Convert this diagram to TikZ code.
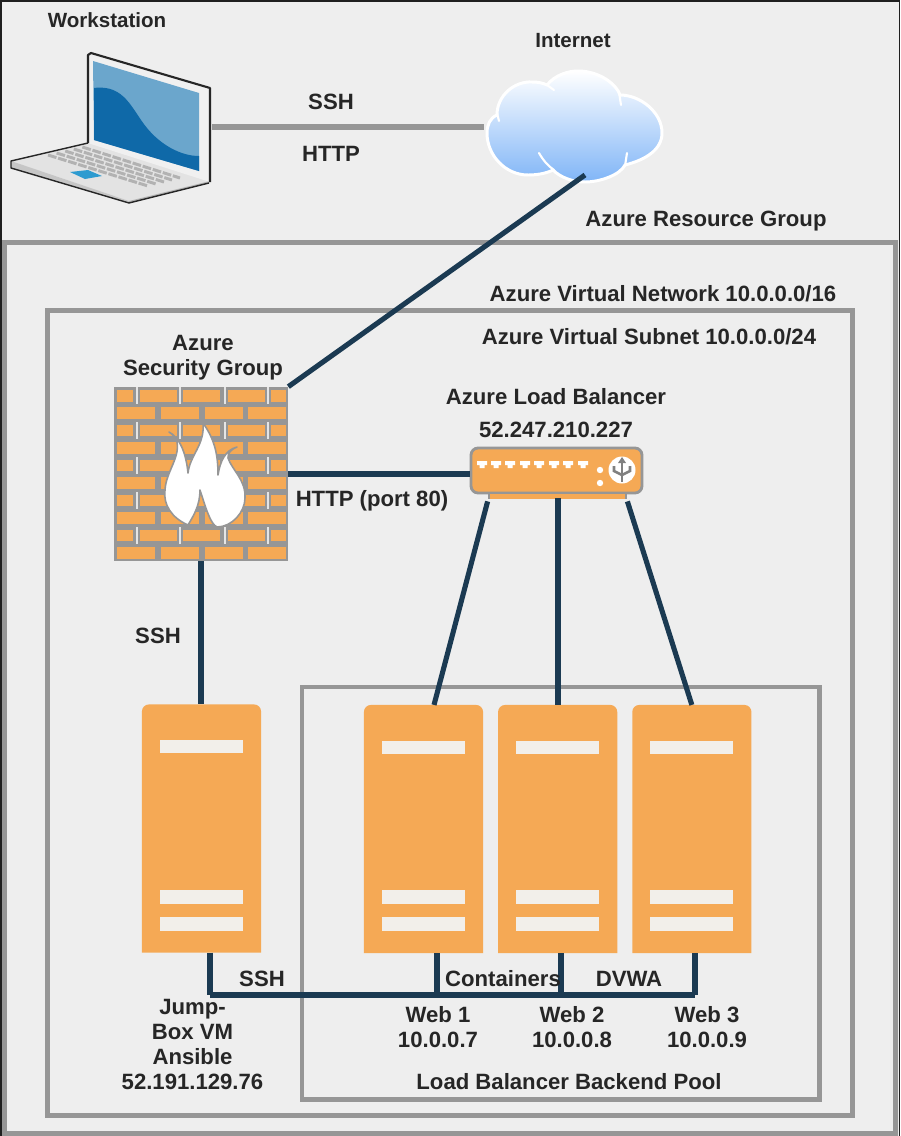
\documentclass[tikz,border=0pt]{standalone}
\usepackage{fontspec}
\setmainfont{Liberation Sans}
\usetikzlibrary{positioning,calc}
\definecolor{panelgray}{HTML}{EEEEEE}
\definecolor{framegray}{HTML}{969696}
\definecolor{navyline}{HTML}{1B3A52}
\definecolor{orangefill}{HTML}{F5A955}
\definecolor{labelink}{HTML}{262626}
\definecolor{screenlight}{HTML}{6BA6CC}
\definecolor{screendark}{HTML}{0F69A8}
\definecolor{padblue}{HTML}{2D9BD0}
\definecolor{cloudlow}{HTML}{80B5F7}
\definecolor{barwhite}{HTML}{F2EFEA}
\begin{document}
\begin{tikzpicture}[
    x=0.02cm, y=-0.02cm,
    node distance=0.3cm and 0.3cm,
    label/.style={font=\fontsize{12.6}{14.2}\selectfont\bfseries, text=labelink, align=center, inner sep=0pt},
    toplabel/.style={label, font=\fontsize{11.7}{14.2}\selectfont\bfseries},
    groupbox/.style={draw=framegray, line width=2.8pt},
    serverbox/.style={minimum width=2.37cm, minimum height=4.95cm, inner sep=0pt},
    wirelink/.style={navyline, line width=2.9pt},
    graylink/.style={framegray, line width=3.2pt},
    brick/.style={fill=orangefill, draw=none}
]
    \useasboundingbox (0,0) rectangle (900,1136);

    % Background
    \fill[panelgray] (0,0) rectangle (900,1136);
    \fill[black!88] (0,0) rectangle (900,2);
    \fill[black!88] (0,0) rectangle (2,1136);
    \fill[black!88] (898.5,0) rectangle (900,1136);

    % Groups
    \draw[groupbox] (4.5,242.5) rectangle (895.5,1133.5);
    \draw[groupbox] (47.5,310.5) rectangle (852.5,1115.5);
    \draw[groupbox] (302,687) rectangle (819.5,1099.5);

    % Laptop
    \fill[gray!22] (11,161) -- (88,143) -- (210,181) -- (129,201) -- cycle;
    \fill[gray!45] (11,161) -- (11,168) -- (129,203) -- (129,201) -- cycle;
    \fill[gray!60] (129,201) -- (129,203) -- (209,183) -- (210,181) -- cycle;
    \draw[black!85, line width=0.8pt, line join=round] (88,143) -- (11,161) -- (11,168) -- (129,203) -- (209,183);
    \foreach \rowpos in {0,0.2,0.4,0.6,0.8}
        \draw[gray!60, line width=1.7pt, dash pattern=on 5pt off 1pt]
            ($(48,155)!\rowpos!(91,145)$) -- ($(148,186)!\rowpos!(188,176)$);
    \fill[padblue] (70,172) -- (88,170) -- (102,176) -- (85,179) -- cycle;
    \fill[gray!12] (88,55) -- (210,88) -- (210,182) -- (88,143) -- cycle;
    \draw[black!85, line width=1.2pt, line join=round] (88,143) -- (88,55) -- (91,53) -- (210,88) -- (210,182);
    \fill[screenlight] (93,61) -- (199,93) -- (199,171) -- (94,140) -- cycle;
    \fill[screendark] (94,88) .. controls (125,84) and (132,110) .. (147,128)
        .. controls (160,144) and (180,156) .. (199,156) -- (199,171) -- (94,140) -- cycle;

    % Cloud
    \path[draw=white, line width=1.7pt, top color=white, bottom color=cloudlow, line join=round]
        (487,133) .. controls (487,125) and (490,118) .. (497,115)
        .. controls (497,95) and (515,81) .. (532,82)
        .. controls (538,82) and (543,83) .. (547,85)
        .. controls (555,75) and (568,71) .. (578,71)
        .. controls (600,71) and (617,85) .. (620,95)
        .. controls (640,95) and (662,112) .. (662,133)
        .. controls (662,150) and (645,160) .. (625,165)
        .. controls (620,175) and (600,182) .. (585,182)
        .. controls (572,182) and (560,177) .. (553,170)
        .. controls (545,174) and (535,175) .. (528,175)
        .. controls (505,175) and (487,155) .. (487,133) -- cycle;
    \draw[white, line width=1.2pt, line cap=round] (499,121) -- (497,113);
    \draw[white, line width=1.2pt, line cap=round] (547,85) -- (554,90);
    \draw[white, line width=1.2pt, line cap=round] (621,105) -- (619,92);
    \draw[white, line width=1.2pt, line cap=round] (627,153) -- (625,166);
    \draw[white, line width=1.2pt, line cap=round] (539,153) .. controls (543,160) and (548,166) .. (554,170);

    % Nodes
    \node[inner sep=0pt, minimum size=3.48cm, fill=framegray] (wall) at (201,474) {};
    \node[serverbox] (jump) at (201.5,828.5) {};
    \node[serverbox] (web1) at (423.5,829) {};
    \node[serverbox, right=of web1] (web2) {};
    \node[serverbox, right=of web2] (web3) {};
    \node[inner sep=0pt, minimum width=3.42cm, minimum height=0.9cm, draw=framegray, fill=orangefill, line width=1.6pt, rounded corners=4pt] (balancer) at (556.5,470.5) {};

    % Bricks
    \foreach \row in {0,2,4,6,8} {
        \foreach \xa/\xb in {117/133,140/177,183/220,228/265,271/286}
            \fill[brick] (\xa,{390+17.45*\row}) rectangle (\xb,{401.5+17.45*\row});
        \foreach \xa in {137,180,225,268}
            \fill[white!75!framegray] (\xa-0.6,{387+17.45*\row}) rectangle (\xa+0.6,{404+17.45*\row});
    }
    \foreach \row in {1,3,5,7,9} {
        \foreach \xa/\xb in {117/155,161/199,205/243,248/286}
            \fill[brick] (\xa,{390+17.45*\row}) rectangle (\xb,{401.5+17.45*\row});
    }

    % Flame
    \path[fill=white, draw=framegray, line width=0.9pt, line join=round]
        (188,525) .. controls (172,518) and (163,505) .. (165,490)
        .. controls (166,472) and (180,458) .. (177,442)
        .. controls (176,437) and (172,434) .. (169,432)
        .. controls (179,437) and (186,452) .. (188,473)
        .. controls (190,455) and (205,445) .. (203,423)
        .. controls (215,440) and (218,455) .. (218,475)
        .. controls (220,462) and (225,450) .. (237,447)
        .. controls (230,450) and (228,453) .. (228,458)
        .. controls (232,470) and (246,480) .. (245,498)
        .. controls (245,512) and (232,527) .. (217,527)
        .. controls (210,524) and (205,505) .. (200,490)
        .. controls (200,505) and (194,515) .. (188,525) -- cycle;

    % Servers
    \foreach \srv in {jump,web1,web2,web3} {
        \fill[orangefill] (\srv.south west) [rounded corners=4pt] -- (\srv.north west) -- (\srv.north east) [sharp corners] -- (\srv.south east) -- cycle;
        \fill[barwhite] ($(\srv.north west)+(18,36)$) rectangle ($(\srv.north east)+(-18,49)$);
        \fill[barwhite] ($(\srv.south west)+(18,-63)$) rectangle ($(\srv.south east)+(-18,-49)$);
        \fill[barwhite] ($(\srv.south west)+(18,-36)$) rectangle ($(\srv.south east)+(-18,-22)$);
    }

    % Load balancer details
    \fill[orangefill] (489,494) rectangle (626,498.5);
    \draw[framegray, line width=0.9pt] (489,494) -- (489,499);
    \draw[framegray, line width=0.9pt] (626,494) -- (626,499);
    \foreach \portx in {482,496,510,525,539,554,568,583}
        \fill[white] (\portx-5,461) -- (\portx+5,461) -- (\portx+5,465) -- (\portx+2.5,465) -- (\portx+2.5,468) -- (\portx-2.5,468) -- (\portx-2.5,465) -- (\portx-5,465) -- cycle;
    \fill[white] (600,470) circle (3.2);
    \fill[white] (600,483) circle (3.2);
    \fill[white] (622,470) circle (13.5);
    \draw[gray, line width=1.5pt] (622,459) -- (622,482);
    \draw[gray, line width=1.5pt] (614,466) -- (614,471) -- (622,475) -- (630,471) -- (630,466);
    \fill[gray] (622,457) -- (626,463) -- (618,463) -- cycle;

    % Anchors of the links
    \coordinate (laptopport) at (212,127);
    \coordinate (cloudwest) at (484,127);
    \coordinate (cloudsouth) at (585,175);
    \coordinate (balancerfoot) at (558,498);
    \coordinate (jumpbus) at (210,995);
    \coordinate (web1bus) at (437,995);
    \coordinate (web2bus) at (561,995);
    \coordinate (web3bus) at (695,995);

    % Links
    \draw[graylink] (laptopport) -- (cloudwest);
    \draw[wirelink] (cloudsouth) -- (wall.north east);
    \draw[wirelink] (wall.east) -- (wall.east -| balancer.west);
    \draw[wirelink] (wall.south) -- (wall.south |- jump.north);
    \draw[wirelink] ($(balancer.south west)+(18,7)$) -- ($(web1.north)+(10.5,0)$);
    \draw[wirelink] (balancerfoot) -- (balancerfoot |- web2.north);
    \draw[wirelink] ($(balancer.south east)+(-16,7)$) -- (web3.north);
    \draw[wirelink] (jumpbus |- jump.south) -- (jumpbus);
    \draw[wirelink] (jumpbus) -- (web3bus);
    \draw[wirelink] (web1bus |- web1.south) -- (web1bus);
    \draw[wirelink] (web2bus |- web2.south) -- (web2bus);
    \draw[wirelink] (web3bus |- web3.south) -- (web3bus);

    % Labels
    \node[toplabel] (workstationlabel) at (107,20) {Workstation};
    \node[toplabel] (internetlabel) at (573,41) {Internet};
    \node[label] (sshtop) at (331,102) {SSH};
    \node[label] (httptop) at (331,154) {HTTP};
    \node[label] (resourcelabel) at (706,221) {Azure Resource Group};
    \node[label] (vnetlabel) at (663,294) {Azure Virtual Network 10.0.0.0/16};
    \node[label] (subnetlabel) at (649,337) {Azure Virtual Subnet 10.0.0.0/24};
    \node[label] (wallabel) at (203,358) {Azure\\Security Group};
    \node[label] (balancerlabel) at (556,397) {Azure Load Balancer};
    \node[label] (balancerip) at (556,430) {52.247.210.227};
    \node[label] (httpport) at (372,501) {HTTP (port 80)};
    \node[label] (sshwall) at (158,636) {SSH};
    \node[label] (sshbus) at (262,979) {SSH};
    \node[label] (containers) at (503,979) {Containers};
    \node[label] (dvwa) at (629,979) {DVWA};
    \node[label] (web1label) at (438,1027) {Web 1\\10.0.0.7};
    \node[label] (web2label) at (572,1027) {Web 2\\10.0.0.8};
    \node[label] (web3label) at (707,1027) {Web 3\\10.0.0.9};
    \node[label] (jumplabel) at (192.5,1044.5) {Jump-\\Box VM\\Ansible\\52.191.129.76};
    \node[label] (poollabel) at (569,1082) {Load Balancer Backend Pool};

\end{tikzpicture}
\end{document}
